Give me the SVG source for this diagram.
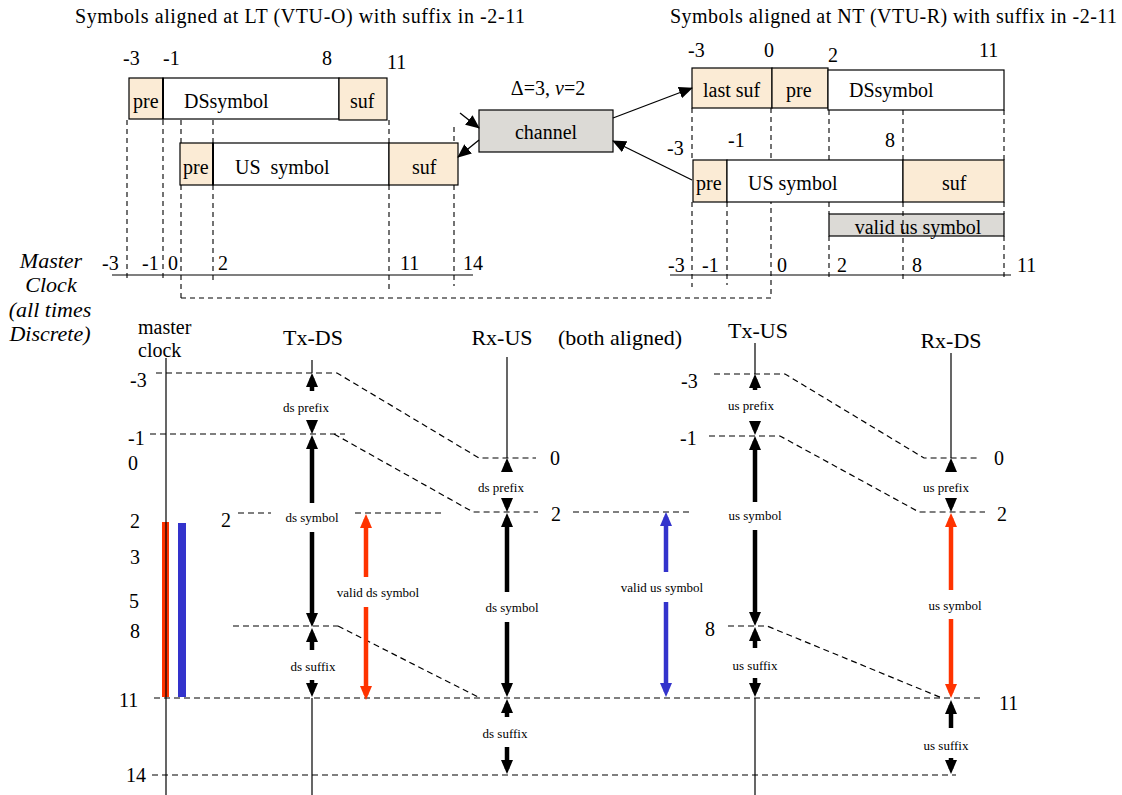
<svg xmlns="http://www.w3.org/2000/svg" width="1122" height="795" viewBox="0 0 1122 795" font-family="'Liberation Serif', 'Times New Roman', Times, serif">
<style>
text{font-family:"Liberation Serif","Times New Roman",Times,serif;fill:#000}
.L{font-size:20px}
.H{font-size:22px}
.S{font-size:13px}
.I{font-size:22px;font-style:italic}
.m{text-anchor:middle}
.tan{fill:#fbebd5;stroke:#000;stroke-width:1.2}
.wht{fill:#fff;stroke:#000;stroke-width:1.2}
.gry{fill:#dcdad6;stroke:#000;stroke-width:1.2}
.d{fill:none;stroke:#000;stroke-width:1.1;stroke-dasharray:5 4}
.d2{fill:none;stroke:#000;stroke-width:1.2;stroke-dasharray:6 4}
.thin{fill:none;stroke:#000;stroke-width:1.2}
.ak{stroke:#000;stroke-width:4.5;marker-end:url(#hk)}
.ar{stroke:#ff3300;stroke-width:4.5;marker-end:url(#hr)}
.ab{stroke:#3333cc;stroke-width:4.5;marker-end:url(#hb)}
.at{stroke:#000;stroke-width:1.3;marker-end:url(#ht)}
</style>
<defs>
<marker id="hk" markerUnits="userSpaceOnUse" viewBox="0 0 14 12" refX="9" refY="6" markerWidth="14" markerHeight="12" orient="auto"><path d="M0,0 L14,6 L0,12 z" fill="#000"/></marker>
<marker id="hr" markerUnits="userSpaceOnUse" viewBox="0 0 14 12" refX="9" refY="6" markerWidth="14" markerHeight="12" orient="auto"><path d="M0,0 L14,6 L0,12 z" fill="#ff3300"/></marker>
<marker id="hb" markerUnits="userSpaceOnUse" viewBox="0 0 14 12" refX="9" refY="6" markerWidth="14" markerHeight="12" orient="auto"><path d="M0,0 L14,6 L0,12 z" fill="#3333cc"/></marker>
<marker id="ht" markerUnits="userSpaceOnUse" viewBox="0 0 14 12" refX="13" refY="6" markerWidth="14" markerHeight="12" orient="auto"><path d="M0,0 L14,6 L0,12 z" fill="#000"/></marker>
</defs>
<rect width="1122" height="795" fill="#fff"/>

<text class="L" x="75" y="23" textLength="450">Symbols aligned at LT (VTU-O) with suffix in  -2-11</text>
<text class="L" x="670" y="23" textLength="447">Symbols aligned at NT (VTU-R) with suffix in  -2-11</text>

<g id="lt-ds">
<rect class="tan" x="129" y="78" width="34" height="41"/>
<rect class="wht" x="163" y="78" width="176" height="41"/>
<rect class="tan" x="339" y="78" width="48" height="42"/>
<line x1="163" y1="78" x2="163" y2="119" stroke="#000" stroke-width="2"/>
<text class="L" x="133" y="108">pre</text>
<text class="L" x="184" y="108">DSsymbol</text>
<text class="L" x="350" y="108">suf</text>
</g>
<g id="lt-us">
<rect class="tan" x="180" y="143" width="33" height="42"/>
<rect class="wht" x="213" y="143" width="176" height="42"/>
<rect class="tan" x="389" y="143" width="69" height="42"/>
<line x1="213" y1="143" x2="213" y2="185" stroke="#000" stroke-width="2"/>
<text class="L" x="183" y="174">pre</text>
<text class="L" x="235" y="174" xml:space="preserve">US  symbol</text>
<text class="L" x="412" y="174">suf</text>
</g>
<g id="lt-labels">
<text class="L" x="123" y="65">-3</text>
<text class="L" x="163" y="65">-1</text>
<text class="L" x="322" y="65">8</text>
<text class="L" x="387" y="69">11</text>
<text class="L" x="102" y="270">-3</text>
<text class="L" x="142" y="270">-1</text>
<text class="L" x="168" y="270">0</text>
<text class="L" x="218" y="270">2</text>
<text class="L" x="400" y="270">11</text>
<text class="L" x="463" y="270">14</text>
</g>

<g id="channel">
<rect class="gry" x="479" y="110" width="134" height="42"/>
<text class="L m" x="546" y="139">channel</text>
<text class="L m" x="548" y="95">Δ=3, <tspan font-style="italic">ν</tspan>=2</text>
</g>

<g id="nt-ds">
<rect class="tan" x="692" y="68" width="80" height="40"/>
<rect class="tan" x="772" y="68" width="56" height="40"/>
<rect class="wht" x="828" y="70" width="176" height="40"/>
<text class="L" x="703" y="97">last suf</text>
<text class="L" x="786" y="97">pre</text>
<text class="L" x="849" y="97">DSsymbol</text>
</g>
<g id="nt-us">
<rect class="tan" x="693" y="160" width="34" height="42"/>
<rect class="wht" x="727" y="160" width="176" height="42"/>
<rect class="tan" x="903" y="160" width="101" height="42"/>
<text class="L" x="696" y="190">pre</text>
<text class="L" x="748" y="190">US symbol</text>
<text class="L" x="942" y="190">suf</text>
</g>
<g id="nt-valid">
<rect class="gry" x="829" y="214" width="175" height="22"/>
<text class="L m" x="918" y="234">valid us symbol</text>
</g>
<g id="nt-labels">
<text class="L" x="688" y="57">-3</text>
<text class="L" x="764" y="57">0</text>
<text class="L" x="828" y="62">2</text>
<text class="L" x="979" y="57">11</text>
<text class="L" x="667" y="155">-3</text>
<text class="L" x="728" y="147">-1</text>
<text class="L" x="885" y="147">8</text>
<text class="L" x="668" y="272">-3</text>
<text class="L" x="702" y="272">-1</text>
<text class="L" x="777" y="272">0</text>
<text class="L" x="837" y="272">2</text>
<text class="L" x="912" y="272">8</text>
<text class="L" x="1017" y="272">11</text>
</g>

<g id="master-label">
<text class="I m" x="51" y="268">Master</text>
<text class="I m" x="51" y="292">Clock</text>
<text class="I m" x="50" y="317">(all times</text>
<text class="I m" x="50" y="341">Discrete)</text>
</g>

<g id="headers">
<text class="L" x="138" y="334">master</text>
<text class="L" x="138" y="357">clock</text>
<text class="H m" x="313" y="345">Tx-DS</text>
<text class="H m" x="502" y="345">Rx-US</text>
<text class="H" x="558" y="345">(both aligned)</text>
<text class="H m" x="758" y="338">Tx-US</text>
<text class="H m" x="951" y="348">Rx-DS</text>
</g>

<g id="time-labels">
<text class="L" x="130" y="387">-3</text>
<text class="L" x="128" y="445">-1</text>
<text class="L" x="128" y="470">0</text>
<text class="L" x="130" y="528">2</text>
<text class="L" x="130" y="564">3</text>
<text class="L" x="129" y="608">5</text>
<text class="L" x="130" y="638">8</text>
<text class="L" x="119" y="707">11</text>
<text class="L" x="126" y="782">14</text>
<text class="L" x="221" y="527">2</text>
<text class="L" x="550" y="465">0</text>
<text class="L" x="551" y="521">2</text>
<text class="L" x="681" y="388">-3</text>
<text class="L" x="680" y="445">-1</text>
<text class="L" x="705" y="636">8</text>
<text class="L" x="994" y="465">0</text>
<text class="L" x="997" y="521">2</text>
<text class="L" x="999" y="710">11</text>
</g>

<g id="segment-labels">
<text class="S m" x="306" y="412">ds prefix</text>
<text class="S m" x="312" y="522">ds symbol</text>
<text class="S m" x="313" y="671">ds suffix</text>
<text class="S m" x="378" y="597">valid ds symbol</text>
<text class="S m" x="501" y="492">ds prefix</text>
<text class="S m" x="512" y="612">ds symbol</text>
<text class="S m" x="505" y="738">ds suffix</text>
<text class="S m" x="662" y="592">valid us symbol</text>
<text class="S m" x="751" y="410">us prefix</text>
<text class="S m" x="755" y="520">us symbol</text>
<text class="S m" x="755" y="670">us suffix</text>
<text class="S m" x="946" y="492">us prefix</text>
<text class="S m" x="955" y="610">us symbol</text>
<text class="S m" x="946" y="750">us suffix</text>
</g>

<g id="bars">
<rect x="162" y="522" width="7" height="175" fill="#ff3300"/>
<rect x="178" y="523" width="8" height="174" fill="#3333cc"/>
</g>

<g id="connectors">
<line class="d" x1="127" y1="120" x2="127" y2="282"/>
<line class="d" x1="163" y1="120" x2="163" y2="280"/>
<line class="d" x1="181" y1="120" x2="181" y2="143"/>
<line class="d" x1="181" y1="185" x2="181" y2="298"/>
<line class="d" x1="213" y1="120" x2="213" y2="143" stroke-width="2"/>
<line class="d" x1="213" y1="185" x2="213" y2="280" stroke-width="2"/>
<line class="d" x1="389" y1="120" x2="389" y2="143"/>
<line class="d" x1="389" y1="185" x2="389" y2="289"/>
<line class="d" x1="454" y1="127" x2="454" y2="143"/>
<line class="d" x1="454" y1="185" x2="454" y2="286"/>
<polyline class="d" points="181,298 771,298 771,202"/>
<line class="d" x1="692" y1="108" x2="692" y2="160"/>
<line class="d" x1="771" y1="108" x2="771" y2="160"/>
<line class="d" x1="829" y1="110" x2="829" y2="160"/>
<line class="d" x1="903" y1="110" x2="903" y2="160"/>
<line class="d" x1="1004" y1="110" x2="1004" y2="160"/>
<line class="d" x1="692" y1="202" x2="692" y2="287"/>
<line class="d" x1="727" y1="202" x2="727" y2="285"/>
<line class="d" x1="829" y1="202" x2="829" y2="214"/>
<line class="d" x1="829" y1="236" x2="829" y2="281"/>
<line class="d" x1="903" y1="202" x2="903" y2="281"/>
<line class="d" x1="1004" y1="202" x2="1004" y2="214"/>
<line class="d" x1="1004" y1="236" x2="1004" y2="281"/>
<line class="thin" x1="112" y1="275" x2="473" y2="275"/>
<line class="thin" x1="670" y1="275" x2="1011" y2="275"/>
<line class="at" x1="460" y1="113" x2="479" y2="128"/>
<line class="at" x1="479" y1="140" x2="458" y2="157"/>
<line class="at" x1="613" y1="118" x2="692" y2="88"/>
<line class="at" x1="692" y1="180" x2="613" y2="141"/>

<line class="thin" x1="166" y1="358" x2="166" y2="795"/>
<line class="thin" x1="312" y1="360" x2="312" y2="373"/>
<line class="thin" x1="312" y1="698" x2="312" y2="795"/>
<line class="thin" x1="507" y1="357" x2="507" y2="458"/>
<line class="thin" x1="755" y1="343" x2="755" y2="374"/>
<line class="thin" x1="755" y1="698" x2="755" y2="795"/>
<line class="thin" x1="951" y1="353" x2="951" y2="458"/>

<polyline class="d2" points="156,373 337,373 479,458 536,458"/>
<line class="d2" x1="150" y1="434" x2="345" y2="434"/>
<polyline class="d2" points="334,434 473,512 538,512"/>
<line class="d2" x1="238" y1="513" x2="271" y2="513"/>
<line class="d2" x1="355" y1="513" x2="443" y2="513"/>
<line class="d2" x1="573" y1="512" x2="690" y2="512"/>
<line class="d2" x1="233" y1="626" x2="338" y2="626"/>
<line class="d2" x1="338" y1="626" x2="480" y2="698"/>
<line class="d2" x1="154" y1="698" x2="983" y2="698"/>
<line class="d2" x1="152" y1="775" x2="956" y2="775"/>
<polyline class="d2" points="714,374 785,374 924,458 980,458"/>
<polyline class="d2" points="709,436 780,436 919,512 985,512"/>
<polyline class="d2" points="728,626 767,626 942,698"/>

<line class="ak" x1="312" y1="391" x2="312" y2="378"/>
<line class="ak" x1="312" y1="420" x2="312" y2="429"/>
<line class="ak" x1="312" y1="503" x2="312" y2="440"/>
<line class="ak" x1="312" y1="532" x2="312" y2="622"/>
<line class="ak" x1="312" y1="650" x2="312" y2="633"/>
<line class="ak" x1="312" y1="680" x2="312" y2="692"/>
<line class="ak" x1="507" y1="472" x2="507" y2="463"/>
<line class="ak" x1="507" y1="502" x2="507" y2="507"/>
<line class="ak" x1="507" y1="592" x2="507" y2="518"/>
<line class="ak" x1="507" y1="622" x2="507" y2="692"/>
<line class="ak" x1="507" y1="717" x2="507" y2="704"/>
<line class="ak" x1="507" y1="747" x2="507" y2="769"/>
<line class="ak" x1="755" y1="390" x2="755" y2="379"/>
<line class="ak" x1="755" y1="422" x2="755" y2="430"/>
<line class="ak" x1="755" y1="502" x2="755" y2="441"/>
<line class="ak" x1="755" y1="530" x2="755" y2="621"/>
<line class="ak" x1="755" y1="648" x2="755" y2="632"/>
<line class="ak" x1="755" y1="678" x2="755" y2="692"/>
<line class="ak" x1="951" y1="472" x2="951" y2="463"/>
<line class="ak" x1="951" y1="502" x2="951" y2="507"/>
<line class="ar" x1="951" y1="590" x2="951" y2="518"/>
<line class="ar" x1="951" y1="619" x2="951" y2="693"/>
<line class="ak" x1="951" y1="728" x2="951" y2="705"/>
<line class="ak" x1="951" y1="758" x2="951" y2="769"/>
<line class="ar" x1="366" y1="577" x2="366" y2="519"/>
<line class="ar" x1="366" y1="607" x2="366" y2="695"/>
<line class="ab" x1="666" y1="572" x2="666" y2="517"/>
<line class="ab" x1="666" y1="602" x2="666" y2="692"/>
</g>
</svg>
